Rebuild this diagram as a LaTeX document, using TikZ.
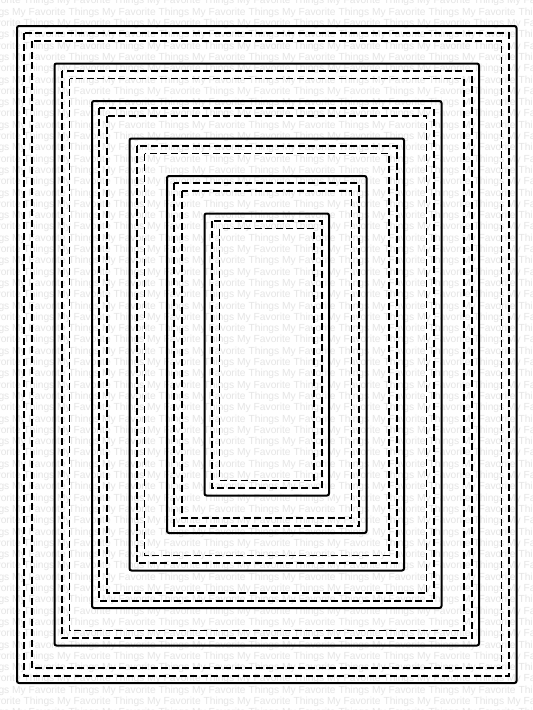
\documentclass[tikz,border=0pt]{standalone}
\usepackage{fontspec}
\setmainfont{Liberation Sans}
\begin{document}
\begin{tikzpicture}[x=1pt,y=-1pt,
  solidline/.style={line width=2pt, rounded corners=2pt, black},
  stitch/.style={line width=1.9pt, dash pattern=on 7pt off 3.5pt, black},
  watermark/.style={anchor=base west, inner sep=0pt, text=black!10,
    font=\fontsize{10.25}{12}\selectfont}]
\fill[white] (0,0) rectangle (533,710);
\useasboundingbox (0,0) rectangle (533,710);
\begin{scope}
\clip (0,0) rectangle (533,710);
\foreach \k in {-1,...,62}{
  \pgfmathsetmacro\yb{15.2+11.3*\k}
  \pgfmathsetmacro\ph{ifthenelse(mod(\k+2,2)==0,12,57)-90}
  \node[watermark] (wm\k) at (\ph,\yb) {My Favorite Things My Favorite Things My Favorite Things My Favorite Things My Favorite Things My Favorite Things My Favorite Things My Favorite Things};
}
\end{scope}
\foreach \i in {0,...,5}{
  \pgfmathsetmacro\L{17+37.5*\i}
  \pgfmathsetmacro\T{26+37.5*\i}
  \pgfmathsetmacro\R{516.5-37.5*\i}
  \pgfmathsetmacro\B{683-37.5*\i}
  \draw[solidline] (\L,\T) rectangle (\R,\B);
  \draw[stitch] (\L+7.3,\T+7.3) rectangle (\R-7.3,\B-7.3);
  \draw[stitch] (\L+15,\T+15) rectangle (\R-15,\B-15);
}
\end{tikzpicture}
\end{document}
